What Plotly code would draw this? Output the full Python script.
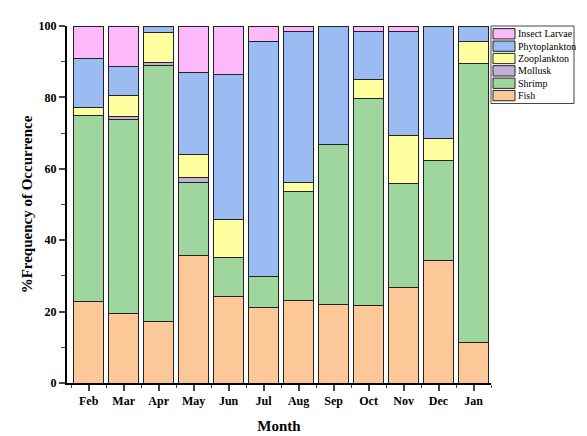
import plotly.graph_objects as go

months = ["Feb", "Mar", "Apr", "May", "Jun", "Jul", "Aug", "Sep", "Oct", "Nov", "Dec", "Jan"]

fish = [22.8, 19.5, 17.3, 35.8, 24.2, 21.1, 23.2, 22.1, 21.6, 26.8, 34.2, 11.4]
shrimp = [52.2, 54.3, 71.6, 20.5, 10.9, 8.8, 30.4, 44.6, 58.1, 29.1, 28.1, 78.1]
mollusk = [0, 0.8, 0.8, 1.2, 0, 0, 0, 0, 0, 0, 0, 0]
zooplankton = [2.3, 5.8, 8.5, 6.6, 10.7, 0, 2.6, 0, 5.4, 13.5, 6.2, 6.1]
phytoplankton = [13.7, 8.3, 1.8, 22.9, 40.7, 65.7, 42.2, 33.3, 13.4, 29.1, 31.5, 4.4]
insect_larvae = [9.0, 11.3, 0, 13.0, 13.5, 4.4, 1.6, 0, 1.5, 1.5, 0, 0]

x = list(range(len(months)))

series = [
    ("Fish", fish, "#FDC897"),
    ("Shrimp", shrimp, "#9FD69D"),
    ("Mollusk", mollusk, "#C3B1D8"),
    ("Zooplankton", zooplankton, "#FFFFA0"),
    ("Phytoplankton", phytoplankton, "#9BBBF3"),
    ("Insect Larvae", insect_larvae, "#FDB8FA"),
]

fig = go.Figure()
for name, vals, color in series:
    fig.add_trace(go.Bar(
        x=x, y=vals, name=name, width=0.86,
        marker=dict(color=color, line=dict(color="#222222", width=1)),
    ))

font = "Liberation Serif, Times New Roman, serif"

# legend drawn by hand (Origin style: compact rows, wide swatches)
plot_w, plot_h = 424, 364
shapes = [dict(type="rect", xref="paper", yref="paper",
               x0=1.0, x1=(573 - 66) / plot_w, y0=(364 - 79) / plot_h, y1=1.0,
               line=dict(color="#444444", width=1), fillcolor="white", layer="above")]
annotations = []
for i, (name, vals, color) in enumerate(reversed(series)):
    top = 2.7 + 12.6 * i
    shapes.append(dict(type="rect", xref="paper", yref="paper",
                       x0=(492 - 66) / plot_w, x1=(514 - 66) / plot_w,
                       y0=1 - (top + 10.5) / plot_h, y1=1 - top / plot_h,
                       line=dict(color="#222222", width=1), fillcolor=color, layer="above"))
    annotations.append(dict(xref="paper", yref="paper", x=(515 - 66) / plot_w,
                            y=1 - (top + 5.25) / plot_h, text=name, showarrow=False,
                            xanchor="left", yanchor="middle",
                            font=dict(size=10, family=font, color="black")))

fig.update_layout(
    barmode="stack",
    width=587, height=436,
    margin=dict(l=59, r=104, t=11, b=61),
    paper_bgcolor="white",
    plot_bgcolor="white",
    showlegend=False,
    shapes=shapes,
    annotations=annotations,
    font=dict(family=font, color="black"),
    xaxis=dict(
        range=[-0.62, 11.5],
        tickvals=x, ticktext=months,
        tickfont=dict(size=12, family=font, weight="bold"),
        ticks="outside", ticklen=6, tickwidth=1.5,
        showline=True, linewidth=2, linecolor="black",
        showgrid=False, zeroline=False,
        minor=dict(tickvals=[i + 0.5 for i in x[:-1]] + [-0.5, 11.5], ticks="outside", ticklen=3, tickwidth=1),
        title=dict(text="Month", font=dict(size=15, family=font, weight="bold"), standoff=13),
    ),
    yaxis=dict(
        range=[0, 100],
        tickvals=[0, 20, 40, 60, 80, 100],
        tickfont=dict(size=12, family=font, weight="bold"),
        ticks="outside", ticklen=6, tickwidth=1.5,
        showline=True, linewidth=2, linecolor="black",
        showgrid=False, zeroline=False,
        minor=dict(dtick=10, ticks="outside", ticklen=4, tickwidth=1),
        title=dict(text="%Frequency of Occurrence", font=dict(size=15, family=font, weight="bold"), standoff=2),
    ),
)

fig.write_html("out.html")
